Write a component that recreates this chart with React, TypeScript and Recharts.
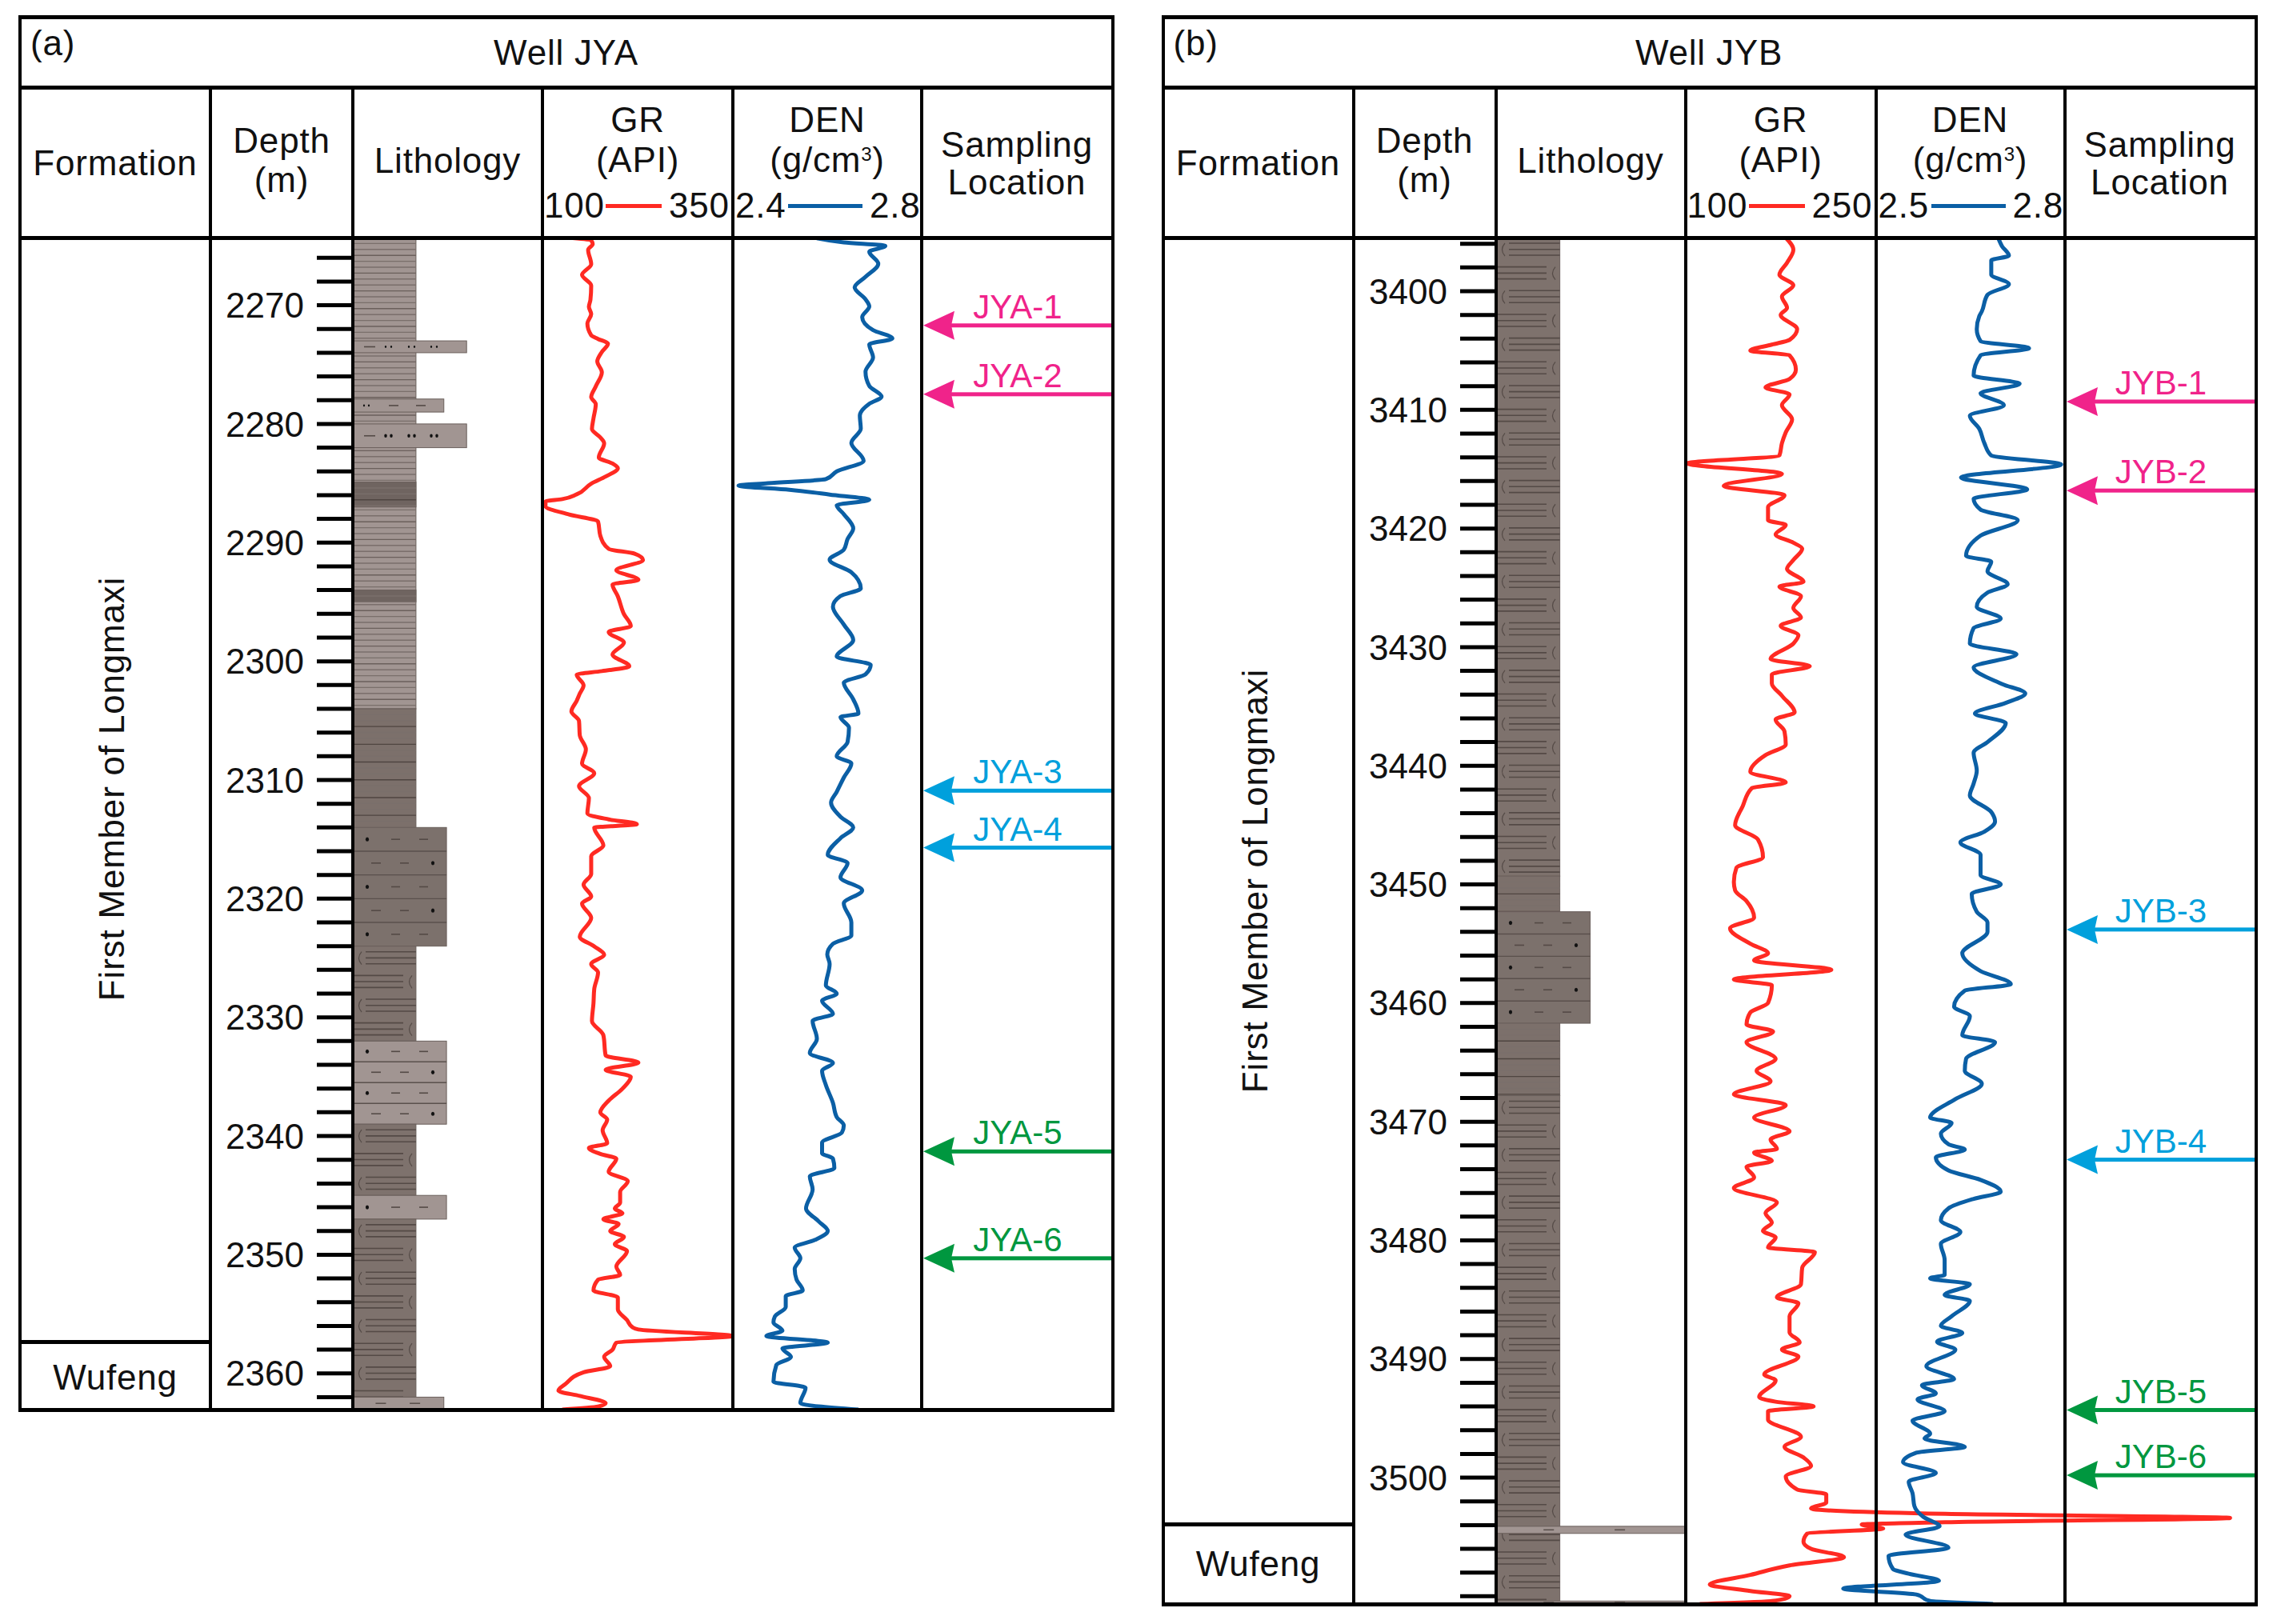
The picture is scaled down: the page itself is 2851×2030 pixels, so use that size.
import { LineChart, Line, XAxis, YAxis, ReferenceArea, ReferenceDot } from "recharts";

// [depth m, reading]
const jyaGr = [
  [2264.26,133],[2264.5,164],[2264.8,166],[2265.3,160],[2266.5,164],[2267.4,152],[2268.3,164],[2269.5,163],[2270.1,161],[2270.7,164],
  [2271.5,159],[2272.5,164],[2272.8,173],[2273.2,186],[2273.9,178],[2274.7,172],[2275.6,178],[2276.8,170],[2277.7,164],[2278.3,170],
  [2279.5,167],[2280.4,165],[2281.1,176],[2281.6,181],[2282.8,174],[2283.3,192],[2283.7,199],[2284.4,183],[2285,164],[2285.9,145],
  [2286.3,126],[2286.5,104],[2286.9,104],[2287.6,135],[2288.2,173],[2289.4,176],[2290.5,187],[2290.9,221],[2291.44,232],[2292.3,197],
  [2293.1,226],[2293.5,192],[2294.5,199],[2296,207],[2297,216],[2297.5,187],[2298.4,207],[2299.4,192],[2300.4,214],[2300.8,178],
  [2301.1,145],[2302,154],[2302.7,149],[2303.3,145],[2304.2,138],[2305,148],[2306.2,149],[2307.4,157],[2308.6,152],[2309.4,168],
  [2310.5,148],[2311.5,161],[2312.8,159],[2313.3,187],[2313.7,224],[2314,168],[2315.5,180],[2316.4,164],[2317.9,164],[2318.8,154],
  [2319.8,164],[2320.4,152],[2321.6,164],[2323.2,149],[2324,168],[2324.7,181],[2325.5,164],[2326.2,173],[2327.6,168],[2328.8,167],
  [2330.3,165],[2331.5,180],[2333.2,183],[2333.8,226],[2334.4,183],[2335,216],[2336,205],[2337,187],[2338,176],[2338.6,185],
  [2339.5,179],[2340.6,185],[2341,161],[2341.5,176],[2341.9,197],[2343,187],[2343.8,212],[2344.7,202],[2345.6,202],[2346.1,195],
  [2346.5,205],[2347,180],[2347.4,200],[2348,189],[2348.5,207],[2349.1,195],[2349.7,211],[2351,197],[2351.7,202],[2352.1,173],
  [2353,167],[2353.6,199],[2354.6,199],[2355.5,211],[2356.1,218],[2356.3,226],[2356.85,350],[2357.4,197],[2358,192],[2358.6,181],
  [2359.4,189],[2359.9,154],[2360.9,130],[2361.45,121],[2361.9,149],[2362.5,183],[2362.8,173],[2363.05,126],
];

const jyaDen = [
  [2264.35,2.578],[2264.7,2.635],[2265,2.723],[2265.5,2.689],[2266.5,2.708],[2267.6,2.681],[2268.5,2.658],[2269.5,2.681],[2270.1,2.689],[2271,2.674],
  [2272.1,2.697],[2272.8,2.738],[2273.3,2.689],[2274.4,2.697],[2275.6,2.681],[2276.8,2.689],[2277.7,2.715],[2278.3,2.689],[2279.3,2.669],[2280.4,2.671],
  [2281.6,2.651],[2283.1,2.677],[2284,2.62],[2284.65,2.597],[2285,2.474],[2285.2,2.412],[2285.55,2.52],[2285.95,2.605],[2286.4,2.689],[2286.85,2.62],
  [2287.6,2.635],[2288.8,2.655],[2289.7,2.643],[2290.6,2.635],[2291.44,2.605],[2292.5,2.651],[2293.85,2.671],[2294.5,2.628],[2295.4,2.612],[2296.9,2.635],
  [2298.2,2.655],[2299.6,2.62],[2300.3,2.692],[2301.1,2.681],[2301.8,2.635],[2303.2,2.655],[2304.4,2.666],[2304.7,2.628],[2305.6,2.646],[2306.8,2.643],
  [2308,2.62],[2308.6,2.651],[2309.8,2.635],[2311,2.62],[2311.9,2.608],[2313.1,2.628],[2314,2.655],[2314.9,2.628],[2316.3,2.601],[2317,2.643],
  [2318.2,2.628],[2319.3,2.674],[2320.4,2.635],[2322,2.651],[2323.1,2.651],[2323.8,2.612],[2324.7,2.6],[2325.5,2.605],[2327.3,2.597],[2328,2.62],
  [2328.6,2.589],[2329.7,2.612],[2330.3,2.569],[2331.8,2.578],[2333,2.563],[2333.85,2.612],[2334.5,2.589],[2335.7,2.597],[2337.2,2.612],[2338.4,2.62],
  [2339.1,2.635],[2339.7,2.631],[2340.55,2.589],[2341.45,2.589],[2341.9,2.612],[2342.7,2.615],[2343.4,2.563],[2344.5,2.569],[2346.1,2.555],[2347.2,2.582],
  [2348,2.601],[2348.75,2.574],[2349.4,2.531],[2350.3,2.543],[2351.2,2.531],[2352.1,2.535],[2353,2.548],[2353.5,2.512],[2354.4,2.512],[2355.2,2.489],
  [2355.7,2.486],[2356.4,2.505],[2356.85,2.471],[2357.4,2.601],[2357.9,2.505],[2358.6,2.523],[2359.3,2.492],[2360.7,2.486],[2361.2,2.554],[2362.5,2.543],
  [2363.05,2.666],
];

const jybGr = [
  [3395.5,179],[3396.5,185],[3397.6,180],[3398.6,174],[3399.5,185],[3400.45,176],[3401.4,180],[3402,175],[3403.2,188],[3404.1,182],
  [3404.5,168],[3405,151],[3405.4,182],[3406.6,187],[3407.4,182],[3408.1,163],[3408.7,182],[3409.6,176],[3410.8,184],[3411.9,179],
  [3412.8,176],[3413.85,174],[3414.5,101],[3415.4,176],[3416.4,130],[3417.2,178],[3418.2,165],[3419.3,165],[3419.7,179],[3420.5,171],
  [3421.2,185],[3421.7,192],[3422.66,185],[3423.4,180],[3424.5,193],[3424.9,174],[3425.7,191],[3426.7,185],[3427.5,191],[3428.2,175],
  [3429,189],[3429.7,185],[3431,167],[3431.6,198],[3432.3,168],[3433.05,168],[3434.1,176],[3435.5,186],[3436.1,171],[3437.1,178],
  [3438.2,179],[3439.1,163],[3440.5,151],[3441.4,179],[3441.9,152],[3443.4,145],[3445,139],[3446.2,157],[3447.7,161],[3448.6,140],
  [3449.8,138],[3450.5,139],[3451.4,148],[3452.8,154],[3453.7,135],[3455,151],[3455.8,165],[3456.4,154],[3457.2,215],[3458,138],
  [3458.5,168],[3460,165],[3460.8,151],[3461.8,148],[3462.4,169],[3463.3,148],[3464.7,171],[3465.7,156],[3466.6,167],[3467.7,138],
  [3468.6,179],[3469.65,154],[3470.8,182],[3471.5,167],[3472.3,172],[3472.6,154],[3473.3,168],[3473.8,148],[3474.7,154],[3475.6,138],
  [3476.8,172],[3477.7,163],[3478.5,168],[3479.2,161],[3479.75,171],[3480.6,165],[3481,202],[3482.3,192],[3483.7,191],[3484.8,172],
  [3485.3,189],[3486.4,182],[3487.75,182],[3488.6,190],[3489.2,176],[3489.8,189],[3491.3,162],[3491.8,171],[3493.2,158],[3493.6,171],
  [3494,201],[3494.4,165],[3495.1,165],[3496.55,191],[3497.4,178],[3498.3,193],[3499,199],[3499.9,179],[3501,188],[3501.4,211],
  [3502.1,211],[3502.6,199],[3503.05,305],[3503.4,530],[3503.75,305],[3503.95,239],[3504.3,256],[3504.7,196],[3505.4,193],[3506,199],
  [3506.7,225],[3507.4,182],[3508.2,151],[3509,119],[3509.55,151],[3510,182],[3510.4,168],[3510.65,111],
];

const jybDen = [
  [3395.5,2.694],[3396.2,2.7],[3397,2.711],[3397.4,2.683],[3398.6,2.683],[3399.4,2.711],[3400.3,2.677],[3401.7,2.668],[3402.1,2.664],[3403.2,2.66],
  [3404.2,2.666],[3404.8,2.743],[3405.4,2.666],[3407.1,2.655],[3407.8,2.728],[3408.6,2.666],[3409.6,2.703],[3410.5,2.649],[3411.6,2.664],[3412.8,2.672],
  [3413.85,2.683],[3414.6,2.794],[3415.7,2.635],[3416.7,2.74],[3417.5,2.655],[3418.4,2.666],[3419.3,2.725],[3420.6,2.666],[3422.3,2.643],[3422.8,2.683],
  [3423.6,2.677],[3424.7,2.709],[3425.4,2.677],[3426.6,2.66],[3427.6,2.698],[3428.4,2.655],[3429.7,2.649],[3430.6,2.723],[3431.7,2.655],[3433.1,2.7],
  [3433.9,2.737],[3434.7,2.706],[3435.6,2.657],[3436.4,2.706],[3438,2.677],[3438.9,2.655],[3440.4,2.66],[3441.5,2.655],[3442.5,2.649],[3443.9,2.683],
  [3444.7,2.689],[3445.55,2.672],[3446.45,2.634],[3447.5,2.666],[3449.2,2.666],[3450,2.698],[3450.8,2.652],[3452.3,2.66],[3453.2,2.677],[3454,2.677],
  [3455.8,2.637],[3457.3,2.666],[3458.4,2.714],[3458.95,2.641],[3460.3,2.624],[3461.1,2.649],[3462.7,2.637],[3463.3,2.689],[3464.7,2.643],[3465.7,2.641],
  [3466.8,2.668],[3468.1,2.626],[3469.65,2.586],[3470.1,2.62],[3471,2.603],[3471.9,2.615],[3472.35,2.641],[3473,2.595],[3474.1,2.615],[3474.9,2.666],
  [3475.9,2.698],[3476.5,2.655],[3477.3,2.615],[3478.3,2.603],[3479.3,2.634],[3480.3,2.603],[3481.65,2.609],[3482.9,2.609],[3483.2,2.586],[3483.7,2.649],
  [3484.6,2.609],[3485.1,2.649],[3486.4,2.62],[3487.2,2.603],[3487.8,2.637],[3488.55,2.597],[3489.2,2.626],[3490.6,2.58],[3491.7,2.624],[3492.2,2.573],
  [3492.9,2.595],[3493.4,2.566],[3494.4,2.609],[3495.2,2.558],[3496.3,2.586],[3496.7,2.577],[3497.4,2.641],[3497.9,2.564],[3498.7,2.543],[3499.6,2.595],
  [3500.35,2.552],[3501.3,2.558],[3502.4,2.561],[3503.3,2.575],[3504.1,2.601],[3504.8,2.547],[3505.9,2.615],[3506.6,2.52],[3507.7,2.527],[3508.1,2.552],
  [3508.7,2.6],[3509.35,2.448],[3509.85,2.564],[3510.4,2.586],[3510.65,2.686],
];

// [top, base, grain (share of the column), rock]
const jyaBeds = [
  [2264.3,2304,0.333,"paleLam"],[2284.9,2287,0.333,"darkLam"],[2294,2295,0.333,"darkLam"],
  [2273,2274,0.6,"siltFine"],[2277.9,2279,0.48,"siltFine"],[2280,2282,0.6,"silt"],
  [2304,2314,0.333,"greyLam"],[2314,2324,0.494,"greyRows"],[2324,2332,0.333,"greyShell"],
  [2332,2339,0.494,"paleRows"],[2339,2345,0.333,"greyShell"],[2345,2347,0.494,"paleRows"],
  [2347,2362,0.333,"greyShell"],[2362,2363.05,0.48,"paleDash"],
];
const jybBeds = [
  [3395.48,3449.3,0.336,"greyShell"],[3449.3,3452.3,0.336,"greyLam"],[3452.3,3461.7,0.496,"greyRows"],
  [3461.7,3467.8,0.336,"greyLam"],[3467.8,3510.65,0.336,"greyShell"],
  [3504.1,3504.7,1,"paleDash"],[3510.4,3510.65,1,"paleDash"],
];

const jyaSampleNames = ["JYA-1","JYA-2","JYA-3","JYA-4","JYA-5","JYA-6"];
const jyaSampleDepths = [2271.7,2277.5,2310.9,2315.7,2341.3,2350.3];
const jybSampleNames = ["JYB-1","JYB-2","JYB-3","JYB-4","JYB-5","JYB-6"];
const jybSampleDepths = [3409.3,3416.8,3453.8,3473.2,3494.3,3499.8];

const jyaDepthTicks = [2266,2268,2270,2272,2274,2276,2278,2280,2282,2284,2286,2288,2290,2292,2294,2296,2298,2300,2302,2304,2306,2308,2310,2312,2314,2316,2318,2320,2322,2324,2326,2328,2330,2332,2334,2336,2338,2340,2342,2344,2346,2348,2350,2352,2354,2356,2358,2360,2362];
const jybDepthTicks = [3396,3398,3400,3402,3404,3406,3408,3410,3412,3414,3416,3418,3420,3422,3424,3426,3428,3430,3432,3434,3436,3438,3440,3442,3444,3446,3448,3450,3452,3454,3456,3458,3460,3462,3464,3466,3468,3470,3472,3474,3476,3478,3480,3482,3484,3486,3488,3490,3492,3494,3496,3498,3500,3502,3504,3506,3508,3510];

const RED = "#ff2a22";
const BLUE = "#0b5fa5";
const SAMPLE_COLORS = ["#f0238a","#f0238a","#00a0dc","#00a0dc","#00973f","#00973f"];
const INK = "#111";
const FONT = "'Liberation Sans', Arial, sans-serif";

const ROCK_FILL = {
  paleLam: "#a19592", darkLam: "#6f6460", greyLam: "#7c706b", greyRows: "#7c716c", greyShell: "#7e726d",
  paleRows: "#a19592", paleDash: "#a19592", silt: "#a19592", siltFine: "#a19592",
};

const BODY_TOP = 297;
const NO_MARGIN = { top: 0, right: 0, bottom: 0, left: 0 };

function Rule({ x, y, w, h }) {
  return <div style={{ position: "absolute", left: x, top: y, width: w, height: h, background: "#000" }} />;
}

function Label({ x, y, children, rotate, anchor = "middle", size = 44 }) {
  const tx = anchor === "middle" ? "-50%" : "0";
  return (
    <div
      style={{
        position: "absolute", left: x, top: y, lineHeight: 1, whiteSpace: "nowrap", color: INK,
        fontFamily: FONT, fontSize: size, letterSpacing: 0.8,
        transform: `translate(${tx},-50%)${rotate ? ` rotate(${rotate}deg)` : ""}`,
      }}
    >
      {children}
    </div>
  );
}

function BedShape({ x, y, width, height, rock }) {
  const fill = ROCK_FILL[rock];
  const marks = [];
  const line = (x1, x2, yy, stroke = "#544a46", w = 1.6) =>
    marks.push(<line key={marks.length} x1={x + x1} x2={x + x2} y1={y + yy} y2={y + yy} stroke={stroke} strokeWidth={w} />);
  const dot = (cx, cy, r = 2.6) =>
    marks.push(<ellipse key={marks.length} cx={x + cx} cy={y + cy} rx={r * 0.8} ry={r} fill="#111" />);
  const shell = (cx, cy) =>
    marks.push(
      <path key={marks.length} d={`M${x + cx + 3} ${y + cy - 8} Q${x + cx - 4} ${y + cy} ${x + cx + 3} ${y + cy + 8}`} fill="none" stroke="#554b47" strokeWidth={1.2} />,
    );

  if (rock.endsWith("Lam")) {
    const stroke = rock === "paleLam" ? "#6b605c" : "#4f4541";
    for (let i = 1, yy = 7.4; yy < height; i++, yy += 7.4) line(0, width, yy, i % 3 === 0 ? stroke : "#7a6f6b", 1.4);
  }
  if (rock === "greyShell") {
    for (let i = 0, yy = 0; yy < height; i++, yy += 29.66) {
      const lines = [7, 14.7, 22].filter((o) => yy + o < height);
      if (i % 2 === 0) {
        if (yy + 15 < height) shell(8, yy + 15);
        lines.forEach((o) => line(16, width, yy + o));
      } else {
        lines.forEach((o) => line(0, 63, yy + o));
        if (yy + 15 < height) shell(71, yy + 15);
      }
    }
  }
  if (rock === "greyRows" || rock === "paleRows") {
    const rows = Math.max(1, Math.round(height / 29.66));
    const rowH = height / rows;
    for (let r = 0; r < rows; r++) {
      const mid = rowH * (r + 0.5);
      if (r > 0) line(0, width, rowH * r, "#5a504c", 1.4);
      if (r % 2 === 0) {
        dot(18, mid);
        line(48, 59, mid);
        line(83, 94, mid);
      } else {
        line(23, 35, mid);
        line(59, 70, mid);
        dot(100, mid);
      }
    }
  }
  if (rock === "silt" || rock === "siltFine") {
    const r = rock === "silt" ? 2.2 : 1.4;
    if (width > 120) {
      line(14, 28, height / 2);
      [41, 48, 70, 77, 98, 105].forEach((c) => dot(c, height / 2, r));
    } else {
      [14, 20].forEach((c) => dot(c, height / 2, r));
      line(45, 57, height / 2);
      line(79, 91, height / 2);
    }
  }
  if (rock === "paleDash") {
    const step = width / 4;
    [1, 2.5].forEach((k) => line(step * k, step * k + 13, height / 2, "#5a504c", 1.6));
  }
  return (
    <g>
      <rect x={x} y={y} width={width} height={height} fill={fill} stroke="#6a5f5b" strokeWidth={1} />
      {marks}
    </g>
  );
}

function CurveTrack({ left, width, height, rows, domain, depthDomain, stroke }) {
  const data = rows.map(([depth, value]) => ({ depth, value }));
  return (
    <div style={{ position: "absolute", left, top: BODY_TOP }}>
      <LineChart width={width} height={height} data={data} layout="vertical" margin={NO_MARGIN} style={{ overflow: "visible" }}>
        <XAxis type="number" hide domain={domain} />
        <YAxis type="number" dataKey="depth" hide domain={depthDomain} />
        <Line dataKey="value" type="monotoneY" stroke={stroke} strokeWidth={5} dot={false} isAnimationActive={false} />
      </LineChart>
    </div>
  );
}

function Well({ dx, panel, name, depthDomain, bodyBottom, wufengTop, wufengY, memberY, beds, gr, grMax, den, denMin, denMax, depthTicks, sampleNames, sampleDepths, grChartRight, denLeftPad, grAxis, denAxis }) {
  const height = bodyBottom - BODY_TOP;
  const c = [25, 263, 441, 678, 916, 1152, 1390].map((v) => v + dx);
  const bedRows = beds.map(([top]) => ({ depth: top }));
  const tickRows = depthTicks.map((depth) => ({ depth }));
  const sampleRows = sampleDepths.map((depth) => ({ depth }));
  const lastTick = depthTicks[depthTicks.length - 1];
  return (
    <>
      {/* lithology */}
      <div style={{ position: "absolute", left: c[2], top: BODY_TOP }}>
        <LineChart width={c[3] - c[2]} height={height} data={bedRows} layout="vertical" margin={NO_MARGIN} style={{ overflow: "visible" }}>
          <XAxis type="number" hide domain={[0, 1]} allowDataOverflow />
          <YAxis type="number" dataKey="depth" hide domain={depthDomain} allowDataOverflow />
          {beds.map(([top, base, grain, rock], i) => (
            <ReferenceArea
              key={i}
              x1={0}
              x2={grain}
              y1={top}
              y2={base}
              ifOverflow="visible"
              shape={(p) => <BedShape {...p} rock={rock} />}
            />
          ))}
        </LineChart>
      </div>

      {/* depth axis */}
      <div style={{ position: "absolute", left: c[1], top: BODY_TOP }}>
        <LineChart width={c[2] - c[1] - 2} height={height} data={tickRows} layout="vertical" margin={NO_MARGIN}>
          <XAxis type="number" hide domain={[0, 1]} allowDataOverflow />
          <YAxis
            type="number"
            dataKey="depth"
            width={c[2] - c[1] - 2}
            domain={depthDomain}
            ticks={depthTicks}
            interval={0}
            tickSize={43}
            tickMargin={16}
            axisLine={false}
            tickLine={{ stroke: "#000", strokeWidth: 5 }}
            tickFormatter={(v) => (v % 10 === 0 && v !== lastTick ? String(v) : "")}
            tick={{ fill: INK, fontSize: 44, fontFamily: FONT }}
          />
        </LineChart>
      </div>

      <CurveTrack left={c[3]} width={grChartRight + dx - c[3]} height={height} rows={gr} domain={[100, grMax]} depthDomain={depthDomain} stroke={RED} />
      <CurveTrack left={c[4] - denLeftPad} width={c[5] - c[4] + denLeftPad} height={height} rows={den} domain={[denMin, denMax]} depthDomain={depthDomain} stroke={BLUE} />

      {/* sampling arrows */}
      <div style={{ position: "absolute", left: c[5], top: BODY_TOP }}>
        <LineChart width={c[6] - c[5]} height={height} data={sampleRows} layout="vertical" margin={NO_MARGIN} style={{ overflow: "visible" }}>
          <XAxis type="number" hide domain={[0, 1]} allowDataOverflow />
          <YAxis type="number" dataKey="depth" hide domain={depthDomain} allowDataOverflow />
          {sampleDepths.map((d, i) => (
            <ReferenceDot
              key={sampleNames[i]}
              x={0}
              y={d}
              ifOverflow="visible"
              shape={({ cx, cy }) => (
                <g fill={SAMPLE_COLORS[i]}>
                  <rect x={cx + 36} y={cy - 2.5} width={202} height={5} />
                  <path d={`M${cx + 2} ${cy} L${cx + 41} ${cy - 18} L${cx + 37} ${cy} L${cx + 41} ${cy + 18} Z`} />
                  <text x={cx + 120} y={cy - 9} textAnchor="middle" fontSize={42} fontFamily={FONT}>
                    {sampleNames[i]}
                  </text>
                </g>
              )}
            />
          ))}
        </LineChart>
      </div>

      {/* frame */}
      <Rule x={c[0] - 2} y={19} w={c[6] - c[0] + 5} h={5} />
      <Rule x={c[0] - 2} y={107} w={c[6] - c[0] + 5} h={5} />
      <Rule x={c[0] - 2} y={295} w={c[6] - c[0] + 5} h={5} />
      <Rule x={c[0] - 2} y={bodyBottom - 2} w={c[6] - c[0] + 5} h={5} />
      <Rule x={c[0] - 2} y={19} w={4} h={bodyBottom - 17} />
      <Rule x={c[6] - 1} y={19} w={4} h={bodyBottom - 17} />
      {c.slice(1, 6).map((v) => (
        <Rule key={v} x={v - 2} y={110} w={4} h={bodyBottom - 110} />
      ))}
      <Rule x={c[0]} y={wufengTop - 2} w={c[1] - c[0]} h={5} />

      {/* text */}
      <Label x={c[0] + 13} y={54} anchor="start">{panel}</Label>
      <Label x={(c[0] + c[6]) / 2} y={66}>{name}</Label>
      <Label x={(c[0] + c[1]) / 2} y={204}>Formation</Label>
      <Label x={(c[1] + c[2]) / 2} y={176}>Depth</Label>
      <Label x={(c[1] + c[2]) / 2} y={225}>(m)</Label>
      <Label x={(c[2] + c[3]) / 2} y={201}>Lithology</Label>
      <Label x={(c[3] + c[4]) / 2} y={150}>GR</Label>
      <Label x={(c[3] + c[4]) / 2} y={200}>(API)</Label>
      <Label x={c[3] + 2} y={257} anchor="start">{grAxis[0]}</Label>
      <Label x={c[3] + 158} y={257} anchor="start">{grAxis[1]}</Label>
      <div style={{ position: "absolute", left: c[3] + 79, top: 255, width: 70, height: 5, background: RED }} />
      <Label x={(c[4] + c[5]) / 2} y={150}>DEN</Label>
      <Label x={(c[4] + c[5]) / 2} y={200}>
        (g/cm<span style={{ fontSize: 24, verticalAlign: 14 }}>3</span>)
      </Label>
      <Label x={c[4] + 3} y={257} anchor="start">{denAxis[0]}</Label>
      <Label x={c[4] + 171} y={257} anchor="start">{denAxis[1]}</Label>
      <div style={{ position: "absolute", left: c[4] + 69, top: 255, width: 93, height: 5, background: BLUE }} />
      <Label x={(c[5] + c[6]) / 2} y={181}>Sampling</Label>
      <Label x={(c[5] + c[6]) / 2} y={228}>Location</Label>
      <Label x={c[0] + 115} y={memberY} rotate={-90}>First Member of Longmaxi</Label>
      <Label x={(c[0] + c[1]) / 2} y={wufengY}>Wufeng</Label>
    </>
  );
}

export default function App() {
  return (
    <div style={{ position: "absolute", left: 0, top: 0, width: 2851, height: 2030, background: "#fff", overflow: "hidden" }}>
      <Well
        dx={0}
        panel="(a)"
        name="Well JYA"
        depthDomain={[2264.3, 2363.05]}
        bodyBottom={1762}
        wufengTop={1677}
        wufengY={1722}
        memberY={986}
        beds={jyaBeds}
        gr={jyaGr}
        grMax={350}
        grChartRight={916}
        grAxis={["100", "350"]}
        den={jyaDen}
        denMin={2.4}
        denMax={2.8}
        denLeftPad={0}
        denAxis={["2.4", "2.8"]}
        depthTicks={jyaDepthTicks}
        sampleNames={jyaSampleNames}
        sampleDepths={jyaSampleDepths}
      />
      <Well
        dx={1428.5}
        panel="(b)"
        name="Well JYB"
        depthDomain={[3395.48, 3510.65]}
        bodyBottom={2005}
        wufengTop={1905}
        wufengY={1955}
        memberY={1101}
        beds={jybBeds}
        gr={jybGr}
        grMax={550}
        grChartRight={1390}
        grAxis={["100", "250"]}
        den={jybDen}
        denMin={2.4}
        denMax={2.8}
        denLeftPad={79}
        denAxis={["2.5", "2.8"]}
        depthTicks={jybDepthTicks}
        sampleNames={jybSampleNames}
        sampleDepths={jybSampleDepths}
      />
    </div>
  );
}
